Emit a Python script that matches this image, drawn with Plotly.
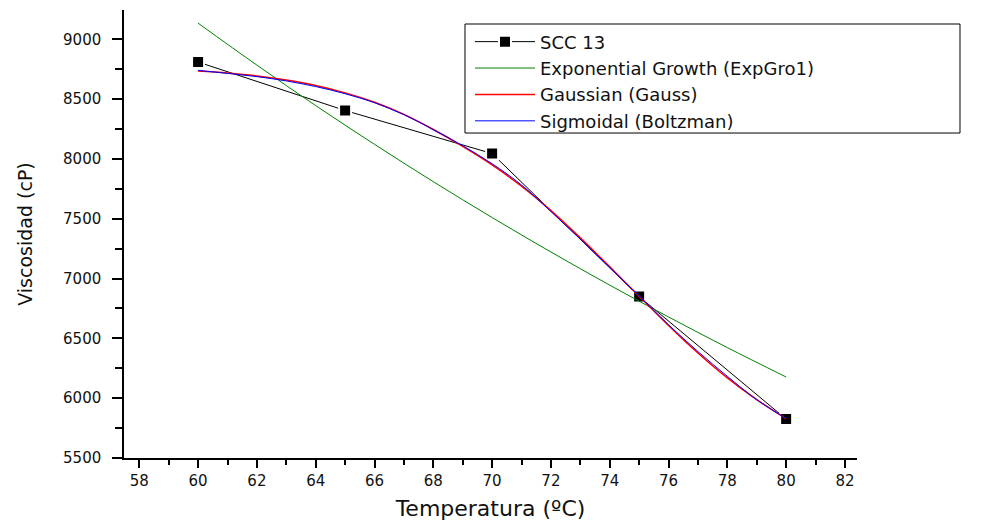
import plotly.graph_objects as go

# SCC 13 measured points
temp = [60, 65, 70, 75, 80]
visc = [8810, 8405, 8045, 6850, 5825]

# fitted curves, values
fit_x = [60, 62, 64, 66, 68, 70, 72, 74, 76, 78, 80]
expgro = [9135, 8784, 8446, 8122, 7810, 7510, 7222, 6945, 6679, 6423, 6177]

sig_x = [60, 61, 62, 63, 64, 65, 66, 67, 68, 69, 70,
         71, 72, 73, 74, 75, 76, 77, 78, 79, 80]
gauss = [8735, 8718, 8694, 8660, 8614, 8552, 8474, 8372, 8246, 8105, 7950,
         7772, 7568, 7340, 7098, 6852, 6608, 6378, 6170, 5988, 5828]
boltz = [8740, 8715, 8688, 8652, 8605, 8545, 8470, 8370, 8245, 8110, 7960,
         7782, 7560, 7330, 7093, 6855, 6614, 6390, 6183, 5987, 5830]

FONT = "DejaVu Sans"

fig = go.Figure()

fig.add_trace(go.Scatter(
    x=temp, y=visc, name="SCC 13", mode="lines+markers",
    line=dict(color="black", width=1),
    marker=dict(symbol="square", size=12, color="black",
                line=dict(color="white", width=2))
))
fig.add_trace(go.Scatter(
    x=fit_x, y=expgro, name="Exponential Growth (ExpGro1)", mode="lines",
    line=dict(color="#008000", width=1, shape="spline")
))
fig.add_trace(go.Scatter(
    x=sig_x, y=gauss, name="Gaussian (Gauss)", mode="lines",
    line=dict(color="#ff0000", width=1.5, shape="spline")
))
fig.add_trace(go.Scatter(
    x=sig_x, y=boltz, name="Sigmoidal (Boltzman)", mode="lines",
    line=dict(color="#0000ff", width=1, shape="spline")
))

# legend frame (page has an 8px body margin, so the figure is offset)
fig.add_shape(type="rect", xref="paper", yref="paper",
              x0=0.4652, x1=1.1405, y0=0.7254, y1=0.96875,
              line=dict(color="black", width=1))

fig.update_layout(
    width=973, height=517,
    template="plotly_white",
    plot_bgcolor="white", paper_bgcolor="white",
    margin=dict(l=116, r=124, t=2, b=67, autoexpand=False),
    font=dict(family=FONT, color="black"),
    legend=dict(
        x=0.472, y=0.97, xanchor="left", yanchor="top",
        bgcolor="rgba(0,0,0,0)", borderwidth=0,
        font=dict(family=FONT, size=18, color="#111"),
        tracegroupgap=0, itemwidth=60
    ),
    xaxis=dict(
        range=[57.48, 82.41], dtick=2, tick0=58,
        showgrid=False, zeroline=False,
        showline=True, linecolor="black", linewidth=1.5,
        ticks="outside", ticklen=8, tickwidth=1.5, tickcolor="black",
        minor=dict(dtick=1, ticklen=5, tickwidth=1.5, tickcolor="black", ticks="outside"),
        tickfont=dict(family=FONT, size=15, color="#111"),
        title=dict(text="Temperatura (ºC)", font=dict(family=FONT, size=22, color="#111"), standoff=12)
    ),
    yaxis=dict(
        range=[5500, 9245], dtick=500, tick0=5500,
        showgrid=False, zeroline=False,
        showline=True, linecolor="black", linewidth=1.5,
        ticks="outside", ticklen=10, tickwidth=1.5, tickcolor="black",
        minor=dict(dtick=250, ticklen=7, tickwidth=1.5, tickcolor="black", ticks="outside"),
        tickfont=dict(family=FONT, size=15, color="#111"),
        ticklabelstandoff=8,
        title=dict(text="Viscosidad (cP)", font=dict(family=FONT, size=19, color="#111"), standoff=25)
    ),
)

fig.write_html("out.html")
